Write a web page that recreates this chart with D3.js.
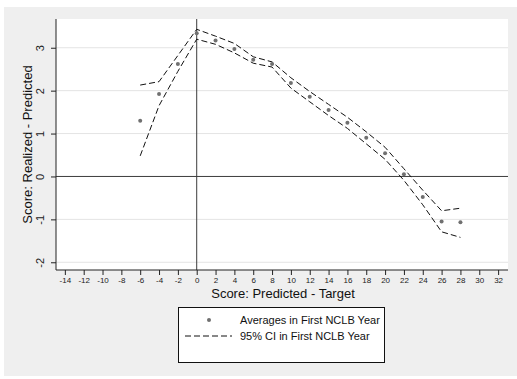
<!DOCTYPE html>
<html>
<head>
<meta charset="utf-8">
<script src="https://cdn.jsdelivr.net/npm/d3@7"></script>
<style>
  html, body { margin: 0; padding: 0; background: #ffffff; }
  svg { display: block; font-family: "Liberation Sans", Arial, sans-serif; }
</style>
</head>
<body>
<svg id="chart" width="517" height="379"></svg>
<script>
// Score bins (predicted minus target)
const bins = [-6, -4, -2, 0, 2, 4, 6, 8, 10, 12, 14, 16, 18, 20, 22, 24, 26, 28];
// Average realized-minus-predicted score in the first NCLB year
const averages = [1.30, 1.92, 2.62, 3.34, 3.17, 2.97, 2.72, 2.62, 2.18, 1.86, 1.55, 1.25, 0.90, 0.54, 0.05, -0.48, -1.05, -1.07];
// 95% confidence band
const ciUpper = [2.13, 2.21, 2.82, 3.43, 3.27, 3.10, 2.79, 2.67, 2.30, 1.98, 1.68, 1.38, 1.04, 0.68, 0.18, -0.32, -0.80, -0.74];
const ciLower = [0.48, 1.65, 2.45, 3.20, 3.08, 2.88, 2.64, 2.55, 2.06, 1.74, 1.42, 1.12, 0.76, 0.40, -0.09, -0.66, -1.29, -1.42];
// Axis ticks
const xTicks = [-14, -12, -10, -8, -6, -4, -2, 0, 2, 4, 6, 8, 10, 12, 14, 16, 18, 20, 22, 24, 26, 28, 30, 32];
const yTicks = [-2, -1, 0, 1, 2, 3];
const legendLabels = ["Averages in First NCLB Year", "95% CI in First NCLB Year"];

const svg = d3.select("#chart");
const plain = d => String(d);   // hyphen-minus labels

// Outer graph region
svg.append("rect").attr("x", 4).attr("y", 7).attr("width", 513).attr("height", 369).attr("fill", "#efefef");

const plot = { left: 56, right: 508, top: 19, bottom: 270 };
svg.append("rect")
  .attr("x", plot.left).attr("y", plot.top)
  .attr("width", plot.right - plot.left).attr("height", plot.bottom - plot.top)
  .attr("fill", "#ffffff");

const x = d3.scaleLinear().domain([-14.94, 33.05]).range([plot.left, plot.right]);
const y = d3.scaleLinear().domain([-2.18, 3.67]).range([plot.bottom, plot.top]);

// Horizontal grid lines
svg.append("g").selectAll("line")
  .data(yTicks.filter(d => d !== 0))
  .join("line")
  .attr("x1", plot.left).attr("x2", plot.right)
  .attr("y1", d => y(d)).attr("y2", d => y(d))
  .attr("stroke", "#e4e4e4").attr("stroke-width", 1);

// Reference lines at zero
svg.append("line")
  .attr("x1", plot.left).attr("x2", plot.right)
  .attr("y1", y(0)).attr("y2", y(0))
  .attr("stroke", "#3c3c3c").attr("stroke-width", 1);
svg.append("line")
  .attr("x1", x(0)).attr("x2", x(0))
  .attr("y1", plot.top).attr("y2", plot.bottom)
  .attr("stroke", "#3c3c3c").attr("stroke-width", 1);

// Axes
const yAxis = svg.append("g")
  .attr("transform", `translate(${plot.left},0)`)
  .call(d3.axisLeft(y).tickValues(yTicks).tickSize(5).tickSizeOuter(0).tickFormat(plain));
yAxis.select(".domain").attr("stroke", "#222").attr("d", `M0,${plot.top}V${plot.bottom}`);
yAxis.selectAll(".tick line").attr("stroke", "#222");
yAxis.selectAll(".tick text")
  .attr("x", 0).attr("y", 0).attr("dy", null)
  .attr("text-anchor", "middle")
  .attr("transform", "translate(-12,0) rotate(-90)")
  .attr("font-size", 11).attr("fill", "#222")
  .style("font-family", "'Liberation Sans', Arial, sans-serif");

const xAxis = svg.append("g")
  .attr("transform", `translate(0,${plot.bottom})`)
  .call(d3.axisBottom(x).tickValues(xTicks).tickSize(5).tickSizeOuter(0).tickFormat(plain));
xAxis.select(".domain").attr("stroke", "#222").attr("d", `M${plot.left},0H${plot.right}`);
xAxis.selectAll(".tick line").attr("stroke", "#222");
xAxis.selectAll(".tick text")
  .attr("y", 7).attr("dy", "0.71em")
  .attr("font-size", 8).attr("fill", "#222")
  .style("font-family", "'Liberation Sans', Arial, sans-serif");

// Axis titles
svg.append("text")
  .attr("x", (plot.left + plot.right) / 2 + 1).attr("y", 298)
  .attr("text-anchor", "middle").attr("font-size", 13).attr("fill", "#111")
  .text("Score: Predicted - Target");
svg.append("text")
  .attr("transform", `translate(32,${(plot.top + plot.bottom) / 2}) rotate(-90)`)
  .attr("text-anchor", "middle")
  .attr("font-size", 13).attr("fill", "#111")
  .text("Score: Realized - Predicted");

// Confidence band lines
const line = d3.line().x(d => x(d[0])).y(d => y(d[1]));
[ciUpper, ciLower].forEach(series => {
  svg.append("path")
    .datum(bins.map((b, i) => [b, series[i]]))
    .attr("d", line)
    .attr("fill", "none")
    .attr("stroke", "#111")
    .attr("stroke-width", 1)
    .attr("stroke-dasharray", "6,3");
});

// Average points
svg.append("g").selectAll("circle")
  .data(bins.map((b, i) => [b, averages[i]]))
  .join("circle")
  .attr("cx", d => x(d[0])).attr("cy", d => y(d[1]))
  .attr("r", 2)
  .attr("fill", "#707070");

// Legend
const legend = svg.append("g");
legend.append("rect")
  .attr("x", 178.5).attr("y", 307.5).attr("width", 206).attr("height", 55)
  .attr("fill", "#ffffff").attr("stroke", "#111").attr("stroke-width", 1);
legend.append("circle").attr("cx", 209).attr("cy", 320).attr("r", 2).attr("fill", "#707070");
legend.append("line")
  .attr("x1", 185).attr("x2", 232).attr("y1", 336).attr("y2", 336)
  .attr("stroke", "#111").attr("stroke-width", 1).attr("stroke-dasharray", "6,3");
legend.selectAll("text.lbl")
  .data(legendLabels)
  .join("text")
  .attr("class", "lbl")
  .attr("x", 240).attr("y", (d, i) => 320 + i * 16)
  .attr("dominant-baseline", "central")
  .attr("font-size", 11).attr("fill", "#111")
  .text(d => d);
</script>
</body>
</html>
